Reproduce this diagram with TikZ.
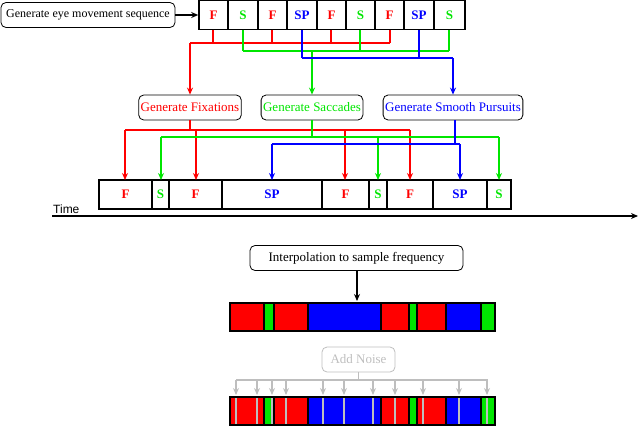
\documentclass[tikz,border=0pt]{standalone}
\usepackage{fontspec}
\setmainfont{Liberation Serif}
\newfontfamily\sansf{Liberation Sans}
\usetikzlibrary{arrows.meta}
\definecolor{cR}{RGB}{255,0,0}
\definecolor{cG}{RGB}{0,230,0}
\definecolor{cB}{RGB}{0,0,255}
\definecolor{cN}{RGB}{190,190,190}
\begin{document}
\begin{tikzpicture}[x=1pt,y=-1pt,
  box/.style={draw,rounded corners=5pt,inner sep=2pt,line width=0.8pt,minimum height=25pt,font=\fontsize{13}{15}\selectfont},
  cell/.style={draw,line width=1.6pt,inner sep=0pt,font=\fontsize{13}{15}\selectfont\bfseries},
  arr/.style={-{Stealth[length=7pt,width=6pt]},line width=1.8pt},
  ln/.style={line width=1.8pt}
]
\useasboundingbox (0,0) rectangle (640,426);

% top sequence
\node[box,minimum width=174pt,inner sep=1pt,font=\fontsize{12}{14}\selectfont] (gen) at (88,15) {Generate eye movement sequence};
\foreach \a/\b/\t/\c [count=\i] in {199/228/F/cR,228/258/S/cG,258/287/F/cR,287/317/SP/cB,317/346/F/cR,346/375/S/cG,375/404/F/cR,404/434/SP/cB,434/465/S/cG}
  \node[cell,text=\c,minimum width={\b-\a},minimum height=29pt] (t\i) at ({(\a+\b)/2},15) {\t};
\draw[arr] (gen.east) -- (t1.west);

% generators
\node[box,text=cR,minimum width=100pt] (fix) at (190,107.5) {Generate Fixations};
\node[box,text=cG,minimum width=96pt] (sac) at (312,107.5) {Generate Saccades};
\node[box,text=cB,minimum width=132pt] (smp) at (453,107.5) {Generate Smooth Pursuits};

% top sequence -> generators
\foreach \x in {213,272,331,390} \draw[ln,cR] (\x,29.5) -- (\x,43);
\draw[ln,cR] (390,43) -- (190,43);
\draw[arr,cR] (190,43) -- (fix.north);
\foreach \x in {243,360,449} \draw[ln,cG] (\x,29.5) -- (\x,51);
\draw[ln,cG] (243,51) -- (449,51);
\draw[arr,cG] (312,51) -- (sac.north);
\foreach \x in {302,419} \draw[ln,cB] (\x,29.5) -- (\x,58);
\draw[ln,cB] (302,58) -- (453,58);
\draw[arr,cB] (453,58) -- (smp.north);

% bottom sequence
\foreach \a/\b/\t/\c [count=\i] in {99/152/F/cR,152/169/S/cG,169/222/F/cR,222/322/SP/cB,322/369/F/cR,369/387/S/cG,387/433/F/cR,433/487/SP/cB,487/511/S/cG}
  \node[cell,text=\c,minimum width={\b-\a},minimum height=29pt] (b\i) at ({(\a+\b)/2},194.5) {\t};

% generators -> bottom sequence
\draw[ln,cR] (fix.south) -- (190,130);
\draw[ln,cR] (125,130) -- (410,130);
\foreach \x in {125,196,345,410} \draw[arr,cR] (\x,130) -- (\x,180);
\draw[ln,cG] (sac.south) -- (312,137);
\draw[ln,cG] (161,137) -- (499,137);
\foreach \x in {161,378,499} \draw[arr,cG] (\x,137) -- (\x,180);
\draw[ln,cB] (455,120) -- (455,144);
\draw[ln,cB] (272,144) -- (460,144);
\foreach \x in {272,460} \draw[arr,cB] (\x,144) -- (\x,180);

% time axis
\node[font=\sansf\fontsize{12}{13}\selectfont,anchor=south west,inner sep=0pt] (time) at (53,214) {Time};
\coordinate (t0) at (52,216);
\coordinate (tend) at (638,216);
\draw[-{Stealth[length=7pt,width=6pt]},line width=1.5pt] (t0) -- (tend);

% interpolation
\node[box,minimum width=213pt] (intp) at (356.5,258) {Interpolation to sample frequency};
\coordinate (bar1) at (357,301);
\draw[arr,black] (intp.south -| bar1) -- (bar1);
\foreach \y in {302,396} {
  \fill[black] (229,\y) rectangle (496,\y+30);
  \foreach \a/\b/\c in {231/263/cR,265/273/cG,275/307/cR,309/380/cB,382/408/cR,410/416/cG,418/445/cR,447/480/cB,482/494/cG}
    \fill[\c] (\a,\y+2) rectangle (\b,\y+28);
}

% noise
\node[box,text=cN,draw=cN,minimum width=73pt] (noise) at (358.5,359.5) {Add Noise};
\draw[ln,cN] (noise.south) -- (358.5,380);
\draw[ln,cN] (236,380) -- (488,380);
\foreach \x in {236,257,272,286,323,344,373,395,423,459,487} {
  \draw[arr,cN] (\x,380) -- (\x,395);
  \draw[cN,line width=2pt] (\x,398) -- (\x,424);
}
\end{tikzpicture}
\end{document}
